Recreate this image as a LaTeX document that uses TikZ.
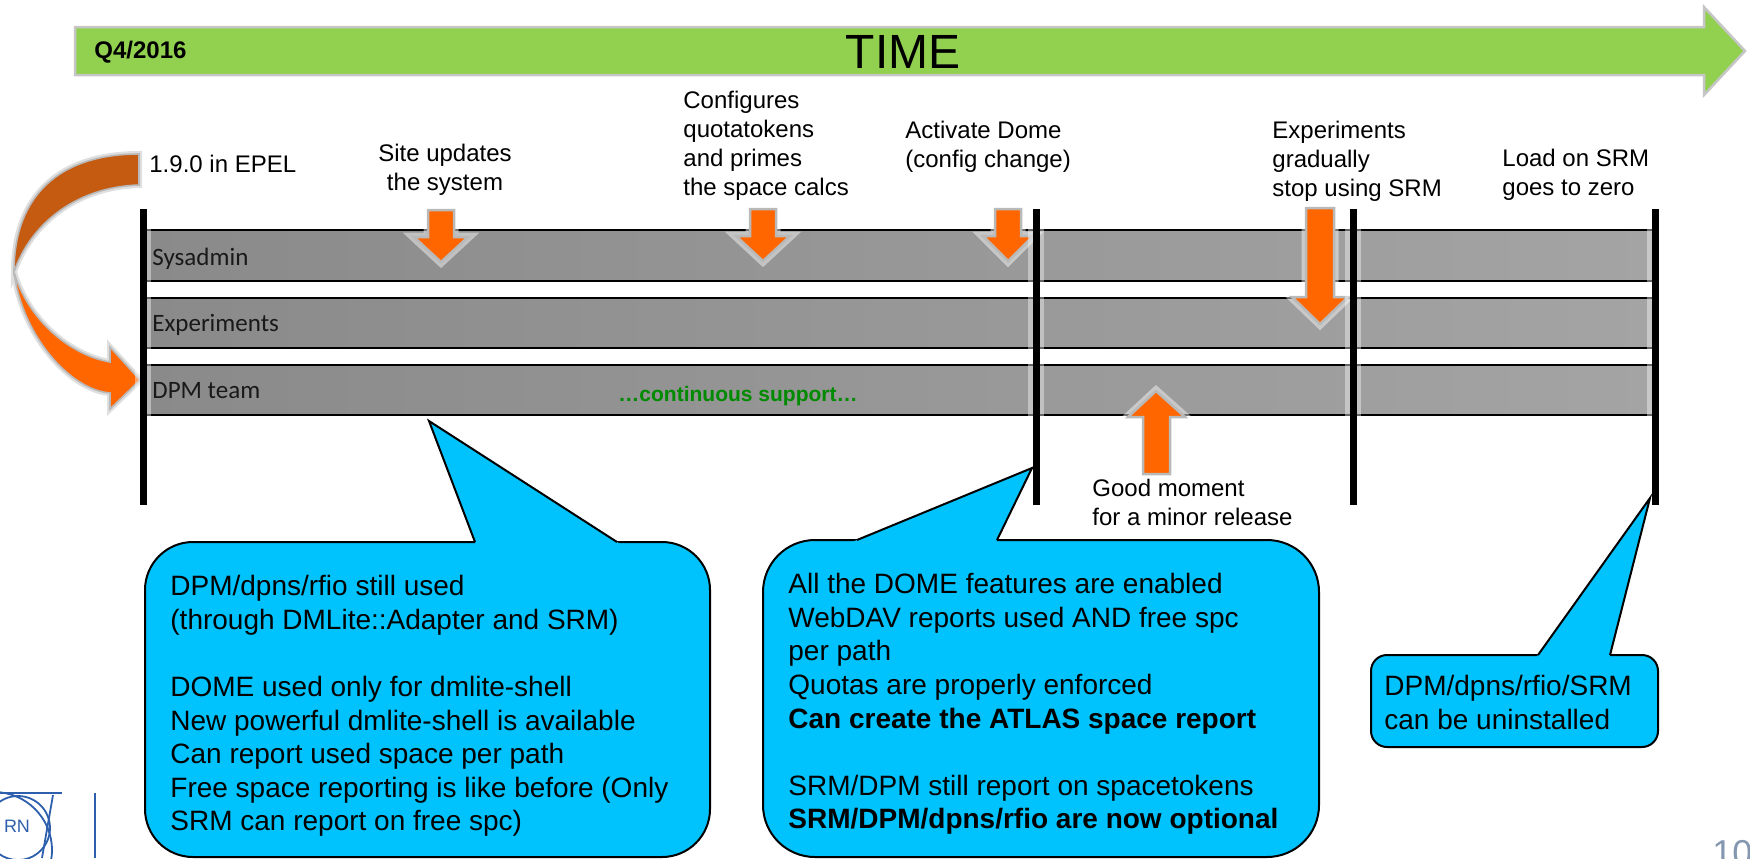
\documentclass[tikz,border=0pt]{standalone}
\usepackage{fontspec}
\setmainfont{Liberation Sans}
\newfontfamily\calibri{Carlito}
\usetikzlibrary{calc}
\definecolor{tgreen}{HTML}{92D050}
\definecolor{darkor}{HTML}{C55A11}
\definecolor{brightor}{HTML}{FF6600}
\definecolor{bandL}{HTML}{8A8A8A}
\definecolor{bandR}{HTML}{A4A4A4}
\definecolor{callfill}{HTML}{00C3FD}
\definecolor{suppgreen}{HTML}{008A00}
\definecolor{cernblue}{HTML}{2E5FAC}
\definecolor{pagegray}{HTML}{8497B0}
\newcommand\orangearrow[1]{\path[oglow] #1; \path[oarrow] #1;}
\begin{document}
\begin{tikzpicture}[x=0.5pt,y=-0.5pt,
  lbl/.style={font=\fontsize{12}{14.4}\selectfont, inner sep=0pt, align=left, anchor=north west},
  lblc/.style={font=\fontsize{12}{14.4}\selectfont, inner sep=0pt, align=center, anchor=north},
  lanelbl/.style={font=\calibri\fontsize{12.5}{15}\selectfont, inner sep=0pt, text=black!90, anchor=base west},
  calltext/.style={font=\fontsize{14}{16.8}\selectfont, inner sep=0pt, align=left, anchor=north west},
  callbox/.style={fill=callfill, draw=black, line width=1pt},
  callside/.style={draw=black, line width=1pt},
  vline/.style={line width=3.5pt, black},
  vglow/.style={line width=8pt, white, opacity=0.4},
  band/.style={left color=bandL, right color=bandR},
  bandline/.style={line width=1pt, black},
  oarrow/.style={fill=brightor, draw=gray!55, line width=1.25pt},
  oglow/.style={draw=white, opacity=0.45, line width=4.5pt},
  cglow/.style={draw=gray!25, line width=3pt},
  logo/.style={draw=cernblue, line width=0.9pt},
]
\useasboundingbox (0,0) rectangle (1750,858);

% ---- TIME arrow ----
\path[fill=tgreen, draw=gray!45, line width=1.25pt]
  (75,27) -- (1704,27) -- (1704,7) -- (1745,51) -- (1704,95) -- (1704,75) -- (75,75) -- cycle;
\node[anchor=base west, font=\bfseries\fontsize{12}{14}\selectfont, inner sep=0] (q4) at (94,58) {Q4/2016};
\node[anchor=base, font=\fontsize{24}{28}\selectfont, inner sep=0] (time) at (903,68) {TIME};

% ---- curved arrow ----
\def\darkpart{(139,154) .. controls (60,154) and (14,195) .. (14,272) .. controls (30,225) and (75,187) .. (139,185) -- cycle}
\def\brightpart{(14,272) .. controls (22,335) and (70,390) .. (110,393) -- (110,409) -- (140,380) -- (110,347) -- (110,362) .. controls (70,355) and (28,320) .. (14,272) -- cycle}
\path[cglow] \darkpart;
\path[cglow] \brightpart;
\path[fill=darkor, draw=gray!55, line width=0.8pt] \darkpart;
\path[fill=brightor, draw=gray!55, line width=0.8pt] \brightpart;

% ---- lanes ----
\foreach \t/\b in {230/281, 298/348, 365/415}{
  \fill[band] (143,\t) rectangle (1655,\b);
  \draw[bandline] (143,\t) -- (1655,\t);
  \draw[bandline] (143,\b) -- (1655,\b);
}
\node[lanelbl] (sys) at (152,265) {Sysadmin};
\node[lanelbl] (exp) at (152,331) {Experiments};
\node[lanelbl] (dpm) at (152,398) {DPM team};
\node[anchor=base, font=\bfseries\fontsize{10.5}{12}\selectfont, text=suppgreen, inner sep=0] (supp) at (738,401) {\dots continuous support\dots};

% ---- top labels ----
\node[anchor=base west, font=\fontsize{12}{14.4}\selectfont, inner sep=0] (epel) at (149,172) {1.9.0 in EPEL};
\node[lblc] (site) at (445,144) {Site updates\\the system};
\node[lbl] (conf) at (683,91) {Configures\\quotatokens\\and primes\\the space calcs};
\node[lbl] (act) at (905,121) {Activate Dome\\(config change)};
\node[lbl] (expg) at (1272,121) {Experiments\\gradually\\stop using SRM};
\node[lbl] (load) at (1502,149) {Load on SRM\\goes to zero};
\node[lbl] (good) at (1092,479) {Good moment\\for a minor release};

% ---- orange block arrows ----
\orangearrow{(428,210) -- (454,210) -- (454,237) -- (468,237) -- (441,262) -- (414,237) -- (428,237) -- cycle}
\orangearrow{(750,209) -- (776,209) -- (776,236) -- (790,236) -- (763,261) -- (736,236) -- (750,236) -- cycle}
\orangearrow{(995,209) -- (1021,209) -- (1021,236) -- (1033,236) -- (1008,261) -- (983,236) -- (995,236) -- cycle}
\orangearrow{(1306,208) -- (1334,208) -- (1334,297) -- (1348,297) -- (1320,324) -- (1292,297) -- (1306,297) -- cycle}
\orangearrow{(1143,474) -- (1170,474) -- (1170,417) -- (1185,417) -- (1156,391) -- (1128,417) -- (1143,417) -- cycle}

% ---- milestone lines ----
\foreach \x in {143,1036,1353,1655}{
  \draw[vglow] (\x,209) -- (\x,505);
}
\foreach \x/\n in {143/l0,1036/l1,1353/l2,1655/l3}{
  \coordinate (\n top) at (\x,209);
  \coordinate (\n bot) at (\x,505);
  \draw[vline] (\n top) -- (\n bot);
}

% ---- callout 1 ----
\coordinate (c1tip) at (429,421);
\coordinate (c1a) at (475,542);
\coordinate (c1b) at (617,542);
\path[callbox, rounded corners=24pt] (145,542) rectangle (710,857);
\fill[callfill] (c1tip) -- ($(c1tip)!1.05!(c1a)$) -- ($(c1tip)!1.05!(c1b)$) -- cycle;
\draw[callside] (c1a) -- (c1tip) -- (c1b);
\node[calltext] (t1) at (170,575) {DPM/dpns/rfio still used\\(through DMLite::Adapter and SRM)\\[16.8pt]DOME used only for dmlite-shell\\New powerful dmlite-shell is available\\Can report used space per path\\Free space reporting is like before (Only\\SRM can report on free spc)};

% ---- callout 2 ----
\coordinate (c2tip) at (1032,468);
\coordinate (c2a) at (857,540);
\coordinate (c2b) at (997,540);
\path[callbox, rounded corners=26pt] (763,540) rectangle (1319,857);
\fill[callfill] (c2tip) -- ($(c2tip)!1.05!(c2a)$) -- ($(c2tip)!1.05!(c2b)$) -- cycle;
\draw[callside] (c2a) -- (c2tip) -- (c2b);
\node[calltext] (t2) at (788,573) {All the DOME features are enabled\\WebDAV reports used AND free spc\\per path\\Quotas are properly enforced\\\textbf{Can create the ATLAS space report}\\[16.8pt]SRM/DPM still report on spacetokens\\\textbf{SRM/DPM/dpns/rfio are now optional}};

% ---- callout 3 ----
\coordinate (c3tip) at (1650,498);
\coordinate (c3a) at (1538,655);
\coordinate (c3b) at (1610,655);
\path[callbox, rounded corners=8pt] (1371,655) rectangle (1658,747);
\fill[callfill] (c3tip) -- ($(c3tip)!1.05!(c3a)$) -- ($(c3tip)!1.05!(c3b)$) -- cycle;
\draw[callside] (c3a) -- (c3tip) -- (c3b);
\node[calltext] (t3) at (1384,675) {DPM/dpns/rfio/SRM\\can be uninstalled};

% ---- logo and page number ----
\draw[logo] (0,793) -- (62,793);
\draw[logo] (18,828) circle[radius=32];
\draw[logo] (-6,850) circle[radius=58];
\draw[logo] (53,795) -- (42,858);
\node[text=cernblue, font=\fontsize{9}{9}\selectfont, inner sep=0] (rn) at (17,826) {RN};
\draw[cernblue, line width=1.2pt] (95,793) -- (95,858);
\node[anchor=north west, text=pagegray, font=\fontsize{18}{18}\selectfont, inner sep=0] (pg) at (1712,840) {10};
\end{tikzpicture}
\end{document}
